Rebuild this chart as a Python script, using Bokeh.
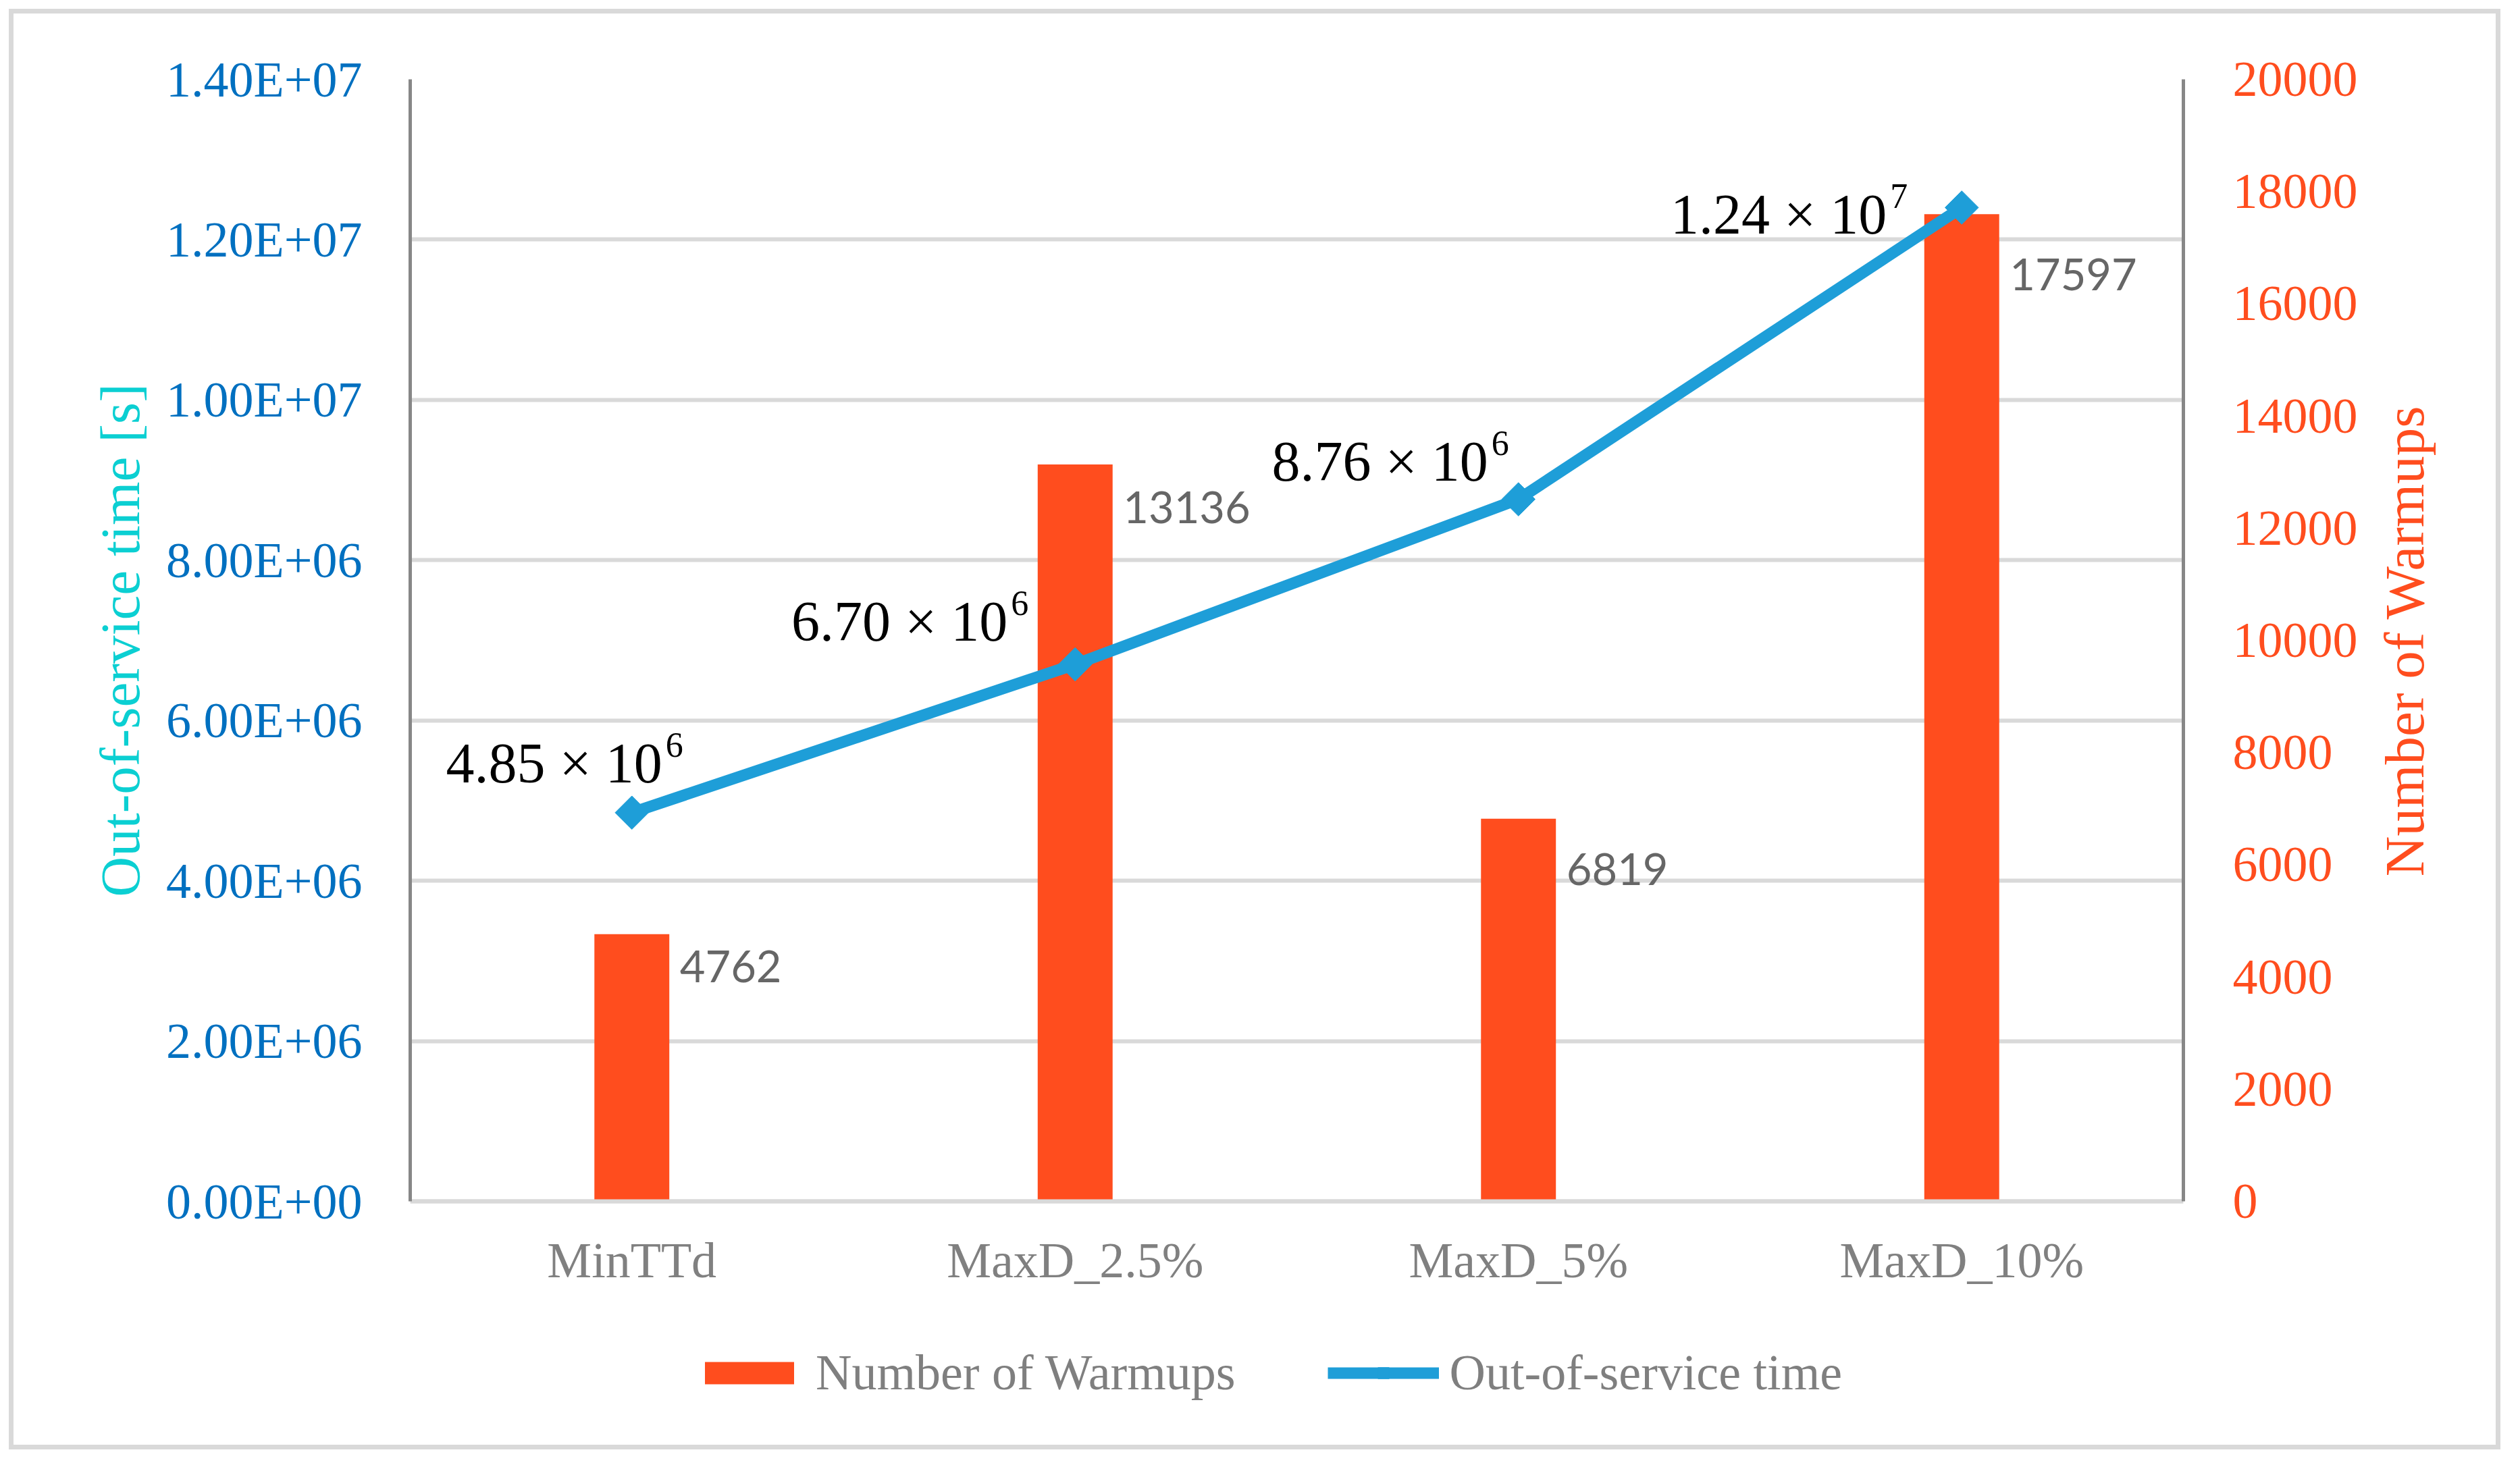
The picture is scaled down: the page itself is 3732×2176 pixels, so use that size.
import math
from bokeh.plotting import figure
from bokeh.models import (ColumnDataSource, Range1d, LinearAxis, FixedTicker,
                          Legend, LegendItem, InlineStyleSheet)
from bokeh.core.properties import value
from bokeh.embed import file_html
from bokeh.resources import INLINE

# ---------------- data ----------------
categories = ["MinTTd", "MaxD_2.5%", "MaxD_5%", "MaxD_10%"]
warmups = [4762, 13136, 6819, 17597]                 # Number of Warmups (right axis)
out_of_service = [4.85e6, 6.70e6, 8.76e6, 1.24e7]    # Out-of-service time [s] (left axis)
left_ticks = [0, 2000000, 4000000, 6000000, 8000000, 10000000, 12000000, 14000000]
right_ticks = [0, 2000, 4000, 6000, 8000, 10000, 12000, 14000, 16000, 18000, 20000]
left_title = "Out-of-service time [s]"
right_title = "Number of Warmups"

# ---------------- label placement (screen px, style only) ----------------
line_label_dx = [45, -100, -45, -111]
line_label_dy = [-73, -64, -56, 10]
bar_label_dy = [48, 64, 75, 89]

# ---------------- colours / fonts ----------------
BAR = "#FF4D1E"
LINE = "#1E9ED8"
LEFT_TICK = "#0070C0"
LEFT_TITLE = "#0BCFD2"
GRID = "#D9D9D9"
AXIS = "#878787"
SERIF = "Liberation Serif"

exps = [int(math.floor(math.log10(v))) for v in out_of_service]
mants = ["%.2f" % (v / 10 ** e) for v, e in zip(out_of_service, exps)]

src = ColumnDataSource(dict(
    cat=categories,
    w=warmups,
    oos=out_of_service,
    wlabel=[str(v) for v in warmups],
    base=[m + " \u00d7 10" for m in mants],
    sup=[str(e) for e in exps],
    ldx=line_label_dx,
    ldy=line_label_dy,
    sdx=[d + 5 for d in line_label_dx],
    sdy=[d - 27 for d in line_label_dy],
    bdy=bar_label_dy,
))

# ---------------- layout ----------------
W, H = 3716, 2160
FRAME_L, FRAME_T, FRAME_R = 607, 117, 3233
ZERO_Y = 1779          # screen row of the value 0
FRAME_B = 2130         # frame continues below the axes to hold the legend
L_MAX, R_MAX = left_ticks[-1], right_ticks[-1]
axis_h = ZERO_Y - FRAME_T
left_lo = -(FRAME_B - ZERO_Y) * L_MAX / axis_h
right_lo = -(FRAME_B - ZERO_Y) * R_MAX / axis_h

p = figure(x_range=categories, y_range=Range1d(left_lo, L_MAX),
           width=W, height=H, output_backend="svg", toolbar_location=None,
           min_border_left=FRAME_L, min_border_right=W - FRAME_R,
           min_border_top=FRAME_T, min_border_bottom=H - FRAME_B)
p.extra_y_ranges = {"w": Range1d(right_lo, R_MAX)}
p.outline_line_color = None
p.background_fill_color = "white"
p.border_fill_color = None
ring = "inset 0 0 0 13px white, inset 0 0 0 20px #D9D9D9"
p.styles = {"background-color": "white", "box-shadow": ring}
p.stylesheets = [InlineStyleSheet(css=":host { background-color: white; box-shadow: %s; }" % ring)]

# grid
p.xgrid.visible = False
p.ygrid.ticker = FixedTicker(ticks=left_ticks)
p.ygrid.grid_line_color = GRID
p.ygrid.grid_line_width = 6

# left axis (ticks)
ly = p.yaxis[0]
ly.ticker = FixedTicker(ticks=left_ticks)
ly.bounds = (0, L_MAX)
ly.major_label_overrides = {v: "%.2E" % v for v in left_ticks}
ly.major_tick_line_color = None
ly.minor_tick_line_color = None
ly.axis_line_color = AXIS
ly.axis_line_width = 5
ly.major_label_standoff = 65
ly.major_label_text_font = SERIF
ly.major_label_text_font_size = "74px"
ly.major_label_text_color = LEFT_TICK

# left title: one rotated label centred on the middle of the axis
l_mid = L_MAX // 2
lt = LinearAxis(ticker=FixedTicker(ticks=[l_mid]))
lt.major_label_overrides = {l_mid: left_title}
lt.major_label_orientation = "parallel"
lt.major_tick_line_color = None
lt.minor_tick_line_color = None
lt.axis_line_color = None
lt.major_label_standoff = 14
lt.major_label_text_font = SERIF
lt.major_label_text_font_size = "83px"
lt.major_label_text_color = LEFT_TITLE
p.add_layout(lt, "left")

# right axis (ticks)
ry = LinearAxis(y_range_name="w", ticker=FixedTicker(ticks=right_ticks),
                bounds=(0, R_MAX))
ry.major_label_overrides = {v: str(v) for v in right_ticks}
ry.major_tick_line_color = None
ry.minor_tick_line_color = None
ry.axis_line_color = AXIS
ry.axis_line_width = 5
ry.major_label_standoff = 67
ry.major_label_text_font = SERIF
ry.major_label_text_font_size = "74px"
ry.major_label_text_color = BAR
p.add_layout(ry, "right")

# right title, written bottom-to-top (a rotated label that starts
# half its length below the middle of the axis)
title_len_px = 700
t_anchor = R_MAX / 2 - (title_len_px / 2) / axis_h * R_MAX
rt = LinearAxis(y_range_name="w", ticker=FixedTicker(ticks=[t_anchor]))
rt.major_label_overrides = {t_anchor: right_title}
rt.major_label_orientation = math.pi / 2
rt.major_tick_line_color = None
rt.minor_tick_line_color = None
rt.axis_line_color = None
rt.major_label_standoff = 60
rt.major_label_text_font = SERIF
rt.major_label_text_font_size = "83px"
rt.major_label_text_color = BAR
p.add_layout(rt, "right")

# x axis, drawn at value 0
xa = p.xaxis[0]
xa.fixed_location = 0
xa.major_tick_line_color = None
xa.minor_tick_line_color = None
xa.axis_line_color = GRID
xa.axis_line_width = 6
xa.major_label_standoff = 40
xa.major_label_text_font = SERIF
xa.major_label_text_font_size = "74px"
xa.major_label_text_color = "#808080"

# bars
bars = p.vbar(x="cat", top="w", width=0.169, y_range_name="w", source=src,
              fill_color=BAR, line_color=None)

# line + markers
ln = p.line(x="cat", y="oos", source=src, line_color=LINE, line_width=17,
            line_join="round")
mk = p.scatter(x="cat", y="oos", source=src, marker="square", angle=math.pi / 4,
               size=35, fill_color=LINE, line_color=LINE)

# bar labels
p.text(x="cat", y="w", text="wlabel", y_range_name="w", source=src,
       x_offset=71, y_offset="bdy", text_align="left", text_baseline="middle",
       text_font=value("Lato"), text_font_size="65px", text_color="#666666")

# line labels
p.text(x="cat", y="oos", text="base", source=src, x_offset="ldx", y_offset="ldy",
       text_align="right", text_baseline="alphabetic",
       text_font=value(SERIF), text_font_size="84px", text_color="black")
p.text(x="cat", y="oos", text="sup", source=src, x_offset="sdx", y_offset="sdy",
       text_align="left", text_baseline="alphabetic",
       text_font=value(SERIF), text_font_size="52px", text_color="black")

legend = Legend(items=[LegendItem(label="Number of Warmups", renderers=[bars]),
                       LegendItem(label="Out-of-service time", renderers=[ln, mk])],
                location=(420, 54), orientation="horizontal",
                glyph_width=165, glyph_height=41, label_standoff=16, spacing=136,
                padding=0, margin=0, border_line_color=None,
                background_fill_alpha=0,
                label_text_font=SERIF, label_text_font_size="74px",
                label_text_color="#7F7F7F")
p.add_layout(legend)

open("out.html", "w").write(file_html(p, INLINE))
